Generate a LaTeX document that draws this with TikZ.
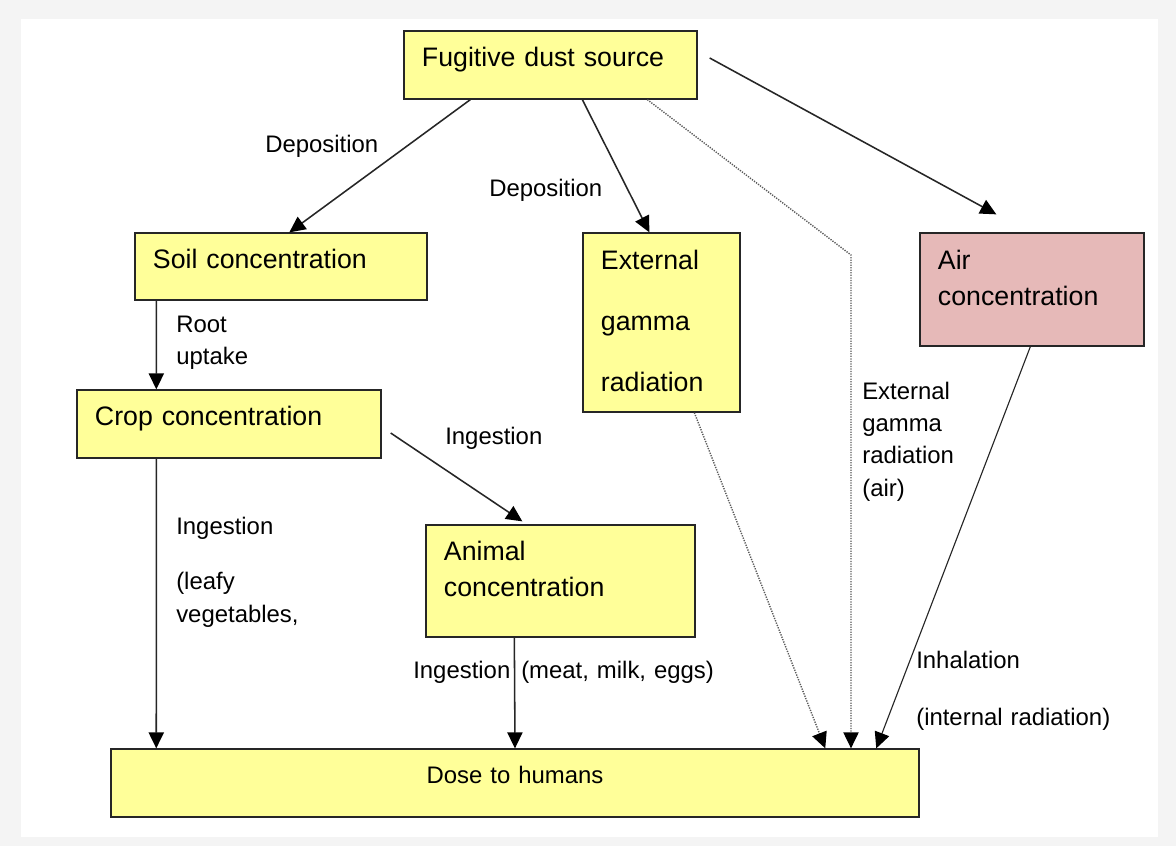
\documentclass[tikz,border=0pt]{standalone}
\usepackage{fontspec}
\setmainfont{Liberation Sans}
\usetikzlibrary{arrows.meta,calc}
\definecolor{boxyellow}{HTML}{FFFF99}
\definecolor{airpink}{HTML}{E6B9B8}
\definecolor{framegray}{HTML}{F4F4F4}

\begin{document}
\begin{tikzpicture}
  [x=0.025cm,y=-0.025cm,
   >={Triangle[length=.4cm,width=.38cm,color=black]},
   box/.style={rectangle,draw=black!85,line width=.9pt,fill=boxyellow,
     inner xsep=.45cm,inner ysep=0pt,align=left,text height=14pt,
     font=\fontsize{19}{25.6}\selectfont},
   lbl/.style={inner sep=0pt,anchor=base west,align=left,text width=6cm,
     font=\fontsize{17}{23}\selectfont},
   arr/.style={->,line width=1.1pt,draw=black!85},
   dotarr/.style={->,line width=1pt,draw=black!65,dash pattern=on .9pt off .9pt}]
  \useasboundingbox (0,0) rectangle (1176,846);
  \fill[framegray] (0,0) rectangle (1176,846);
  \fill[white] (21,19) rectangle (1158,837);

  % boxes
  \node[box,text width=6.425cm,minimum height=1.7cm,text depth=11.8pt] (fug) at (550.5,65) {Fugitive dust source};
  \node[box,text width=6.4cm,minimum height=1.675cm,text depth=11.8pt] (soil) at (281,266.5) {Soil concentration};
  \node[box,text width=3.025cm,minimum height=4.475cm,text depth=89.2pt] (ext) at (661.5,322.5) {External\\[17.8pt]gamma\\[17.8pt]radiation};
  \node[box,fill=airpink,text width=4.7cm,minimum height=2.825cm,text depth=42.3pt] (air) at (1032,289.5) {Air\\concentration};
  \node[box,text width=6.7cm,minimum height=1.7cm,text depth=11.8pt] (crop) at (229,424) {Crop concentration};
  \node[box,text width=5.825cm,minimum height=2.8cm,text depth=43pt] (animal) at (560.5,581) {Animal\\concentration};
  \node[box,align=center,text width=19.3cm,minimum height=1.7cm,text depth=13.2pt,
    font=\fontsize{17}{23}\selectfont] (dose) at (515,783) {Dose to humans};

  % labels
  \node[lbl] (dep1) at (265,153) {Deposition};
  \node[lbl] (dep2) at (489,197) {Deposition};
  \node[lbl] (root) at (176,332) {Root\\uptake};
  \node[lbl] (ing1) at (445,444) {Ingestion};
  \node[lbl] (ing2) at (176,534) {Ingestion\\[16.8pt](leafy\\vegetables,};
  \node[lbl] (ing3) at (413,678) {Ingestion};
  \node[lbl] (meat) at (521,678) {(meat, milk, eggs)};
  \node[lbl] (gamair) at (862,399) {External\\gamma\\radiation\\(air)};
  \node[lbl] (inhal) at (916,668) {Inhalation\\[18.2pt](internal radiation)};

  \coordinate (bend) at (851,255);

  \draw[arr] ($(fug.south west)+(67,0)$) -- ($(soil.north west)+(155,0)$);
  \draw[arr] ($(fug.south west)+(179,0)$) -- ($(ext.north west)+(67,0)$);
  \draw[arr] ($(fug.east)+(12,-7)$) -- ($(air.north west)+(77,-18)$);
  \draw[arr] ($(soil.south west)+(22,0)$) -- ($(crop.north west)+(80,0)$);
  \draw[arr] ($(crop.east)+(9,9)$) -- ($(animal.north west)+(97,-3)$);
  \draw[arr] ($(crop.south west)+(80,0)$) -- ($(dose.north west)+(46,0)$);
  \draw[arr] ($(animal.south west)+(89,0)$) -- (dose.north);
  \draw[arr,line width=.8pt] ($(air.south west)+(111,0)$) -- ($(dose.north west)+(766,0)$);
  % dotted paths of external radiation
  \draw[dotarr] ($(ext.south west)+(112,0)$) -- ($(dose.north west)+(715,0)$);
  \draw[dotarr] ($(fug.south west)+(244,0)$) -- (bend) -- (bend |- dose.north);
\end{tikzpicture}
\end{document}
